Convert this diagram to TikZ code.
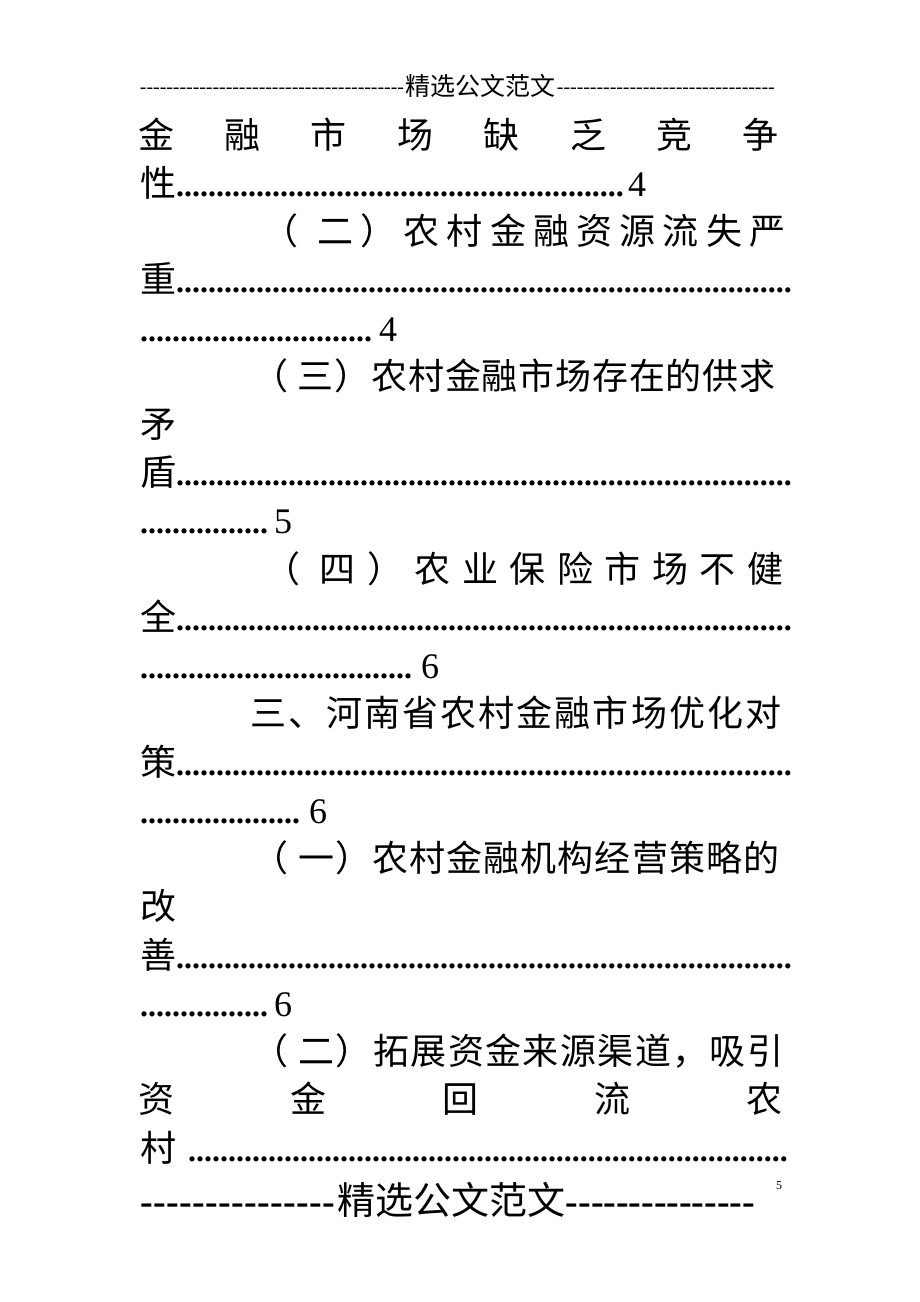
\documentclass[tikz,border=0pt]{standalone}
\usepackage{fontspec}
\setmainfont{Liberation Serif}
\newfontfamily\cjk{Noto Sans CJK SC}
\newcommand\dotrun[1]{\hbox to \dimexpr 8pt*#1\relax{\leaders\hbox to 8pt{\hss\bfseries.\hss}\hfill}}
\newcommand\dashrun[2]{\hbox to \dimexpr #2*#1\relax{\leaders\hbox to #2{\hss-\hss}\hfill}}
\begin{document}
\begin{tikzpicture}[x=1pt,y=-1pt,
  txt/.style={inner sep=0pt, outer sep=0pt},
  cj/.style={txt, anchor=base, font=\cjk\fontsize{36}{36}\selectfont},
  lat/.style={txt, anchor=base west, font=\fontsize{32}{32}\selectfont},
  num/.style={txt, anchor=base west, font=\fontsize{36}{36}\selectfont},
  hdcj/.style={txt, anchor=base west, font=\cjk\fontsize{25}{25}\selectfont},
  hddash/.style={txt, anchor=base west, font=\fontsize{20}{20}\selectfont},
  ftcj/.style={txt, anchor=base west, font=\cjk\fontsize{38}{38}\selectfont},
  ftdash/.style={txt, anchor=base west, font=\bfseries\fontsize{38}{38}\selectfont},
  pgnum/.style={txt, anchor=base west, font=\fontsize{12}{12}\selectfont}]
\useasboundingbox[fill=white] (0,0) rectangle (920,1302);

% header
\node[hddash] (hdl) at (140,93) {\dashrun{40}{6.6pt}};
\node[hdcj] (hdt) at (405,95) {精选公文范文};
\node[hddash] (hdr) at (557,93) {\dashrun{33}{6.6pt}};

% row 0
\foreach \c [count=\k from 0] in {金,融,市,场,缺,乏,竞,争}
  \node[cj] (r0c\k) at ({156+86.4*\k},148) {\c};
% row 1
\node[cj] (r1c) at (158,196.2) {性};
\node[lat] (r1d) at (176,196.2) {\dotrun{56}};
\node[num] (r1n) at (628,196.2) {4};
% row 2
\foreach \c [count=\k from 0] in {（,二,）,农,村,金,融,资,源,流,失,严}
  \node[cj] (r2c\k) at ({292+43.2*\k-(\k==0)*12},244.5) {\c};
% row 3
\node[cj] (r3c) at (158,292.7) {重};
\node[lat] (r3d) at (176,292.7) {\dotrun{77}};
% row 4
\node[lat] (r4d) at (140,341) {\dotrun{29}};
\node[num] (r4n) at (379,341) {4};
% row 5
\foreach \c [count=\k from 0] in {（,三,）,农,村,金,融,市,场,存,在,的,供,求}
  \node[cj] (r5c\k) at ({279+36.8*\k-(\k==0)*9},389.2) {\c};
% row 6
\node[cj] (r6c) at (158,437.4) {矛};
% row 7
\node[cj] (r7c) at (158,485.7) {盾};
\node[lat] (r7d) at (176,485.7) {\dotrun{77}};
% row 8
\node[lat] (r8d) at (140,533.9) {\dotrun{16}};
\node[num] (r8n) at (274,533.9) {5};
% row 9
\foreach \c [count=\k from 0] in {（,四,）,农,业,保,险,市,场,不,健}
  \node[cj] (r9c\k) at ({290+47.5*\k-(\k==0)*8},582.2) {\c};
% row 10
\node[cj] (r10c) at (158,630.4) {全};
\node[lat] (r10d) at (176,630.4) {\dotrun{77}};
% row 11
\node[lat] (r11d) at (140,678.6) {\dotrun{34}};
\node[num] (r11n) at (421,678.6) {6};
% row 12
\foreach \c [count=\k from 0] in {三,、,河,南,省,农,村,金,融,市,场,优,化,对}
  \node[cj] (r12c\k) at ({268+38.1*\k},726.9) {\c};
% row 13
\node[cj] (r13c) at (158,775.1) {策};
\node[lat] (r13d) at (176,775.1) {\dotrun{77}};
% row 14
\node[lat] (r14d) at (140,823.4) {\dotrun{20}};
\node[num] (r14n) at (309,823.4) {6};
% row 15
\foreach \c [count=\k from 0] in {（,一,）,农,村,金,融,机,构,经,营,策,略,的}
  \node[cj] (r15c\k) at ({279+37.1*\k-(\k==0)*9},871.6) {\c};
% row 16
\node[cj] (r16c) at (158,919.8) {改};
% row 17
\node[cj] (r17c) at (158,968.1) {善};
\node[lat] (r17d) at (176,968.1) {\dotrun{77}};
% row 18
\node[lat] (r18d) at (140,1016.3) {\dotrun{16}};
\node[num] (r18n) at (274,1016.3) {6};
% row 19
\foreach \c [count=\k from 0] in {（,二,）,拓,展,资,金,来,源,渠,道,，,吸,引}
  \node[cj] (r19c\k) at ({279+37.4*\k-(\k==0)*9},1064.6) {\c};
% row 20
\foreach \c [count=\k from 0] in {资,金,回,流,农}
  \node[cj] (r20c\k) at ({156+152*\k},1112.8) {\c};
% row 21
\node[cj] (r21c) at (158,1161) {村};
\node[lat] (r21d) at (188,1161) {\dotrun{75}};

% footer
\node[ftdash] (ftl) at (140,1214) {\dashrun{15}{13pt}};
\node[ftcj] (ftt) at (337,1214) {精选公文范文};
\node[ftdash] (ftr) at (566,1214) {\dashrun{15}{12.6pt}};
\node[pgnum] (pg) at (776,1189) {5};
\end{tikzpicture}
\end{document}
